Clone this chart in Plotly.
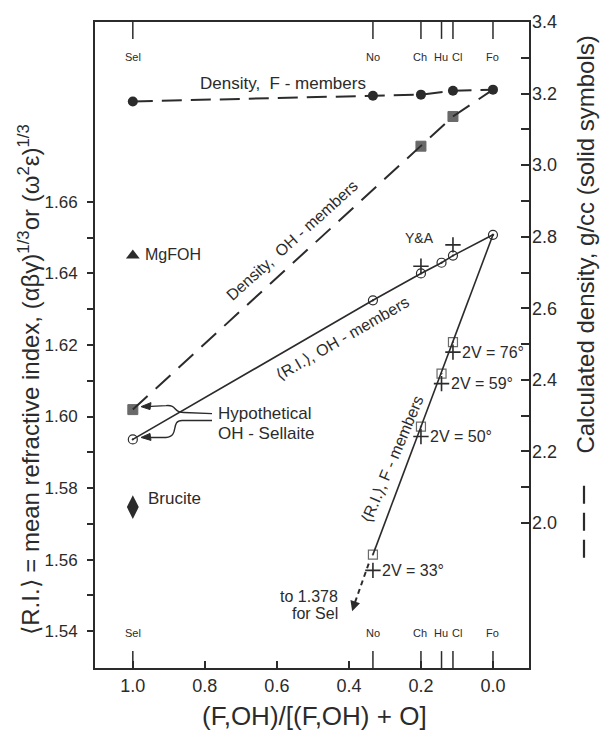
import plotly.graph_objects as go

# ---------------- data ----------------
minerals = ["Sel", "No", "Ch", "Hu", "Cl", "Fo"]
mineral_x = [1.0, 1/3, 0.2, 1/7, 1/9, 0.0]
mineral_label_shift = [0, 0, -1, -1, 4, 0]

dens_F_x = [1.0, 1/3, 0.2, 1/9, 0.0]
dens_F = [3.178, 3.194, 3.197, 3.208, 3.211]

dens_OH_x = [1.0, 0.2, 1/9, 0.0]
dens_OH = [2.317, 3.053, 3.136, 3.211]

ri_OH_x = [1.0, 1/3, 0.2, 1/7, 1/9, 0.0]
ri_OH = [1.5936, 1.6325, 1.640, 1.643, 1.645, 1.6508]

ri_F_x = [1/3, 0.2, 1/7, 1/9, 0.0]
ri_F = [1.5614, 1.5972, 1.612, 1.6208, 1.6508]

meas_F_x = [1/3, 0.2, 1/7, 1/9]
meas_F = [1.557, 1.5944, 1.6092, 1.618]
meas_F_2V = ["2V = 33°", "2V = 50°", "2V = 59°", "2V = 76°"]

ya_x = [0.2, 1/9]
ya_ri = [1.642, 1.648]

mgfoh_x, mgfoh_ri = [1.0], [1.645]
brucite_x, brucite_ri = [1.0], [1.5747]

sel_ext_x = [0.345, 0.384]
sel_ext_ri = [1.5589, 1.5478]
sel_ext_tip = (0.391, 1.5456)

x_tickvals = [1.0, 0.8, 0.6, 0.4, 0.2, 0.0]
x_ticktext = ["1.0", "0.8", "0.6", "0.4", "0.2", "0.0"]
ri_tickvals = [1.54, 1.56, 1.58, 1.60, 1.62, 1.64, 1.66]
ri_ticktext = ["1.54", "1.56", "1.58", "1.60", "1.62", "1.64", "1.66"]
ri_minor_vals = [1.55, 1.57, 1.59, 1.61, 1.63, 1.65]
dens_tickvals = [2.0, 2.2, 2.4, 2.6, 2.8, 3.0, 3.2, 3.4]
dens_ticktext = ["2.0", "2.2", "2.4", "2.6", "2.8", "3.0", "3.2", "3.4"]
dens_minor_vals = [2.1, 2.3, 2.5, 2.7, 2.9, 3.1, 3.3]

# ---------------- layout geometry ----------------
W, H = 600, 734
ML, MR, MT, MB = 95, 71, 18, 66
PW = W - ML - MR
PH = H - MT - MB


def px(xp, yp):
    return (xp - ML) / PW, 1 - (yp - MT) / PH


INK = "#2b2b2b"
FONT = "Liberation Sans, Arial, sans-serif"

fig = go.Figure()

# Density, F-members (right axis)
fig.add_trace(go.Scatter(
    x=dens_F_x, y=dens_F, yaxis="y2", mode="lines+markers",
    line=dict(color=INK, width=2, dash="20px,9px"),
    marker=dict(symbol="circle", size=10, color=INK),
))
# Density, OH-members (right axis)
fig.add_trace(go.Scatter(
    x=dens_OH_x, y=dens_OH, yaxis="y2", mode="lines+markers",
    line=dict(color=INK, width=2, dash="20px,11px"),
    marker=dict(symbol="square", size=[10, 10, 10, 0], color=INK,
                line=dict(width=1, color=INK)),
))
# RI, OH-members
fig.add_trace(go.Scatter(
    x=ri_OH_x, y=ri_OH, mode="lines+markers",
    line=dict(color=INK, width=1.6),
    marker=dict(symbol="circle-open-dot", size=9, color=INK, line=dict(width=1.2, color=INK)),
))
# RI, F-members
fig.add_trace(go.Scatter(
    x=ri_F_x, y=ri_F, mode="lines+markers",
    line=dict(color=INK, width=1.6),
    marker=dict(symbol="square-open-dot", size=[9, 9, 9, 9, 0], color=INK,
                line=dict(width=1.2, color=INK)),
))
# measured F-members (crosses)
fig.add_trace(go.Scatter(
    x=meas_F_x, y=meas_F, mode="markers",
    marker=dict(symbol="cross-thin", size=11, line=dict(width=1.6, color=INK)),
))
# Y&A crosses
fig.add_trace(go.Scatter(
    x=ya_x, y=ya_ri, mode="markers",
    marker=dict(symbol="cross-thin", size=11, line=dict(width=1.6, color=INK)),
))
# MgFOH and brucite
fig.add_trace(go.Scatter(
    x=mgfoh_x, y=mgfoh_ri, mode="markers",
    marker=dict(symbol="triangle-up", size=12, color=INK),
))
fig.add_trace(go.Scatter(
    x=brucite_x, y=brucite_ri, mode="markers",
    marker=dict(symbol="diamond-tall", size=17, color=INK),
))
# extension toward sellaite (off-scale)
fig.add_trace(go.Scatter(
    x=sel_ext_x, y=sel_ext_ri, mode="lines",
    line=dict(color=INK, width=2, dash="5px,4px"),
))

annotations = []
shapes = []

# arrowhead of extension
annotations.append(dict(
    x=sel_ext_tip[0], y=sel_ext_tip[1], xref="x", yref="y",
    ax=sel_ext_x[-1], ay=sel_ext_ri[-1], axref="x", ayref="y",
    text="", showarrow=True, arrowhead=2, arrowsize=1.0, arrowwidth=2, arrowcolor=INK,
))

# mineral ticks top & bottom
for name, xv, sh in zip(minerals, mineral_x, mineral_label_shift):
    shapes.append(dict(type="line", xref="x", yref="paper", x0=xv, x1=xv,
                       y0=1, y1=1 - 17 / PH, line=dict(color=INK, width=1.5)))
    shapes.append(dict(type="line", xref="x", yref="paper", x0=xv, x1=xv,
                       y0=0, y1=17 / PH, line=dict(color=INK, width=1.5)))
    for yy in (45, 641):
        annotations.append(dict(x=xv, y=px(0, yy)[1], xref="x", yref="paper", text=name,
                                showarrow=False, xshift=sh,
                                font=dict(size=11, color=INK, family=FONT)))

# 2V labels
for xv, yv, t in zip(meas_F_x, meas_F, meas_F_2V):
    annotations.append(dict(x=xv, y=yv, xref="x", yref="y", text=t, showarrow=False,
                            xanchor="left", xshift=7, font=dict(size=16, color=INK, family=FONT)))


def label(xp, yp, text, size=16, angle=0, xanchor="center"):
    xx, yy = px(xp, yp)
    annotations.append(dict(x=xx, y=yy, xref="paper", yref="paper", text=text,
                            showarrow=False, textangle=angle, xanchor=xanchor, yanchor="middle",
                            font=dict(size=size, color=INK, family=FONT)))


label(283, 80, "Density,  F - members", 17)
label(292, 238, "Density,  OH - members", 16, -42)
label(342, 336, "⟨R.I.⟩, OH - members", 16, -30)
label(392, 458, "⟨R.I.⟩, F - members", 16, -67)
label(419, 235, "Y&amp;A", 14)
label(143, 252, "MgFOH", 16, xanchor="left")
label(146, 497, "Brucite", 17, xanchor="left")
label(216, 412, "Hypothetical", 17, xanchor="left")
label(216, 432, "OH - Sellaite", 17, xanchor="left")
label(340, 596, "to 1.378", 16, xanchor="right")
label(340, 613, "for Sel", 16, xanchor="right")

# axis titles
label(314, 716, "(F,OH)/[(F,OH) + O]", 26)
label(29, 378, "⟨R.I.⟩ = mean refractive index, (αβγ)<sup>1/3</sup>or (ω<sup>2</sup>ε)<sup>1/3</sup>", 24, -90)
label(586, 242, "Calculated density, g/cc (solid symbols)", 24, -90)
# dashed-line key for the density curves
kx, _ = px(584, 0)
shapes.append(dict(type="line", xref="paper", yref="paper",
                   x0=kx, x1=kx, y0=px(0, 557)[1], y1=px(0, 479)[1],
                   line=dict(color=INK, width=2.2, dash="18px,9px")))

# curved pointer arrows for hypothetical OH-sellaite
def p(xp, yp):
    a, b = px(xp, yp)
    return f"{a:.4f},{b:.4f}"

shapes.append(dict(type="path", xref="paper", yref="paper",
                   path=f"M {p(212,412)} L {p(184,411)} C {p(172,411)} {p(178,403)} {p(166,404)} L {p(146,405)}",
                   line=dict(color=INK, width=1.4)))
shapes.append(dict(type="path", xref="paper", yref="paper",
                   path=f"M {p(212,419)} L {p(182,419)} C {p(170,419)} {p(180,435)} {p(166,436)} L {p(146,436)}",
                   line=dict(color=INK, width=1.4)))
shapes.append(dict(type="path", xref="paper", yref="paper",
                   path=f"M {p(141,405)} L {p(151,401)} L {p(150,408)} Z",
                   fillcolor=INK, line=dict(color=INK, width=1)))
shapes.append(dict(type="path", xref="paper", yref="paper",
                   path=f"M {p(141,436)} L {p(150,432)} L {p(151,439)} Z",
                   fillcolor=INK, line=dict(color=INK, width=1)))

fig.update_layout(
    width=W, height=H,
    margin=dict(l=ML, r=MR, t=MT, b=MB, pad=0),
    paper_bgcolor="white", plot_bgcolor="white",
    showlegend=False,
    font=dict(family=FONT, color=INK),
    xaxis=dict(
        range=[1.105, -0.1], tickvals=x_tickvals, ticktext=x_ticktext,
        ticks="inside", ticklen=7, tickwidth=1.5, tickcolor=INK,
        showline=True, linewidth=2, linecolor=INK, mirror=True,
        showgrid=False, zeroline=False, tickfont=dict(size=18, color=INK),
        ticklabelstandoff=0,
    ),
    yaxis=dict(
        range=[1.5297, 1.7103], tickvals=ri_tickvals, ticktext=ri_ticktext,
        ticks="outside", ticklen=6, tickwidth=1.5, tickcolor=INK,
        minor=dict(tickvals=ri_minor_vals, ticks="outside", ticklen=6, tickwidth=1.5,
                   tickcolor=INK, showgrid=False),
        showline=True, linewidth=2, linecolor=INK, mirror=True,
        showgrid=False, zeroline=False, tickfont=dict(size=17, color=INK),
        ticklabelstandoff=6,
    ),
    yaxis2=dict(
        range=[1.595, 3.4], overlaying="y", side="right",
        tickvals=dens_tickvals, ticktext=dens_ticktext,
        ticks="inside", ticklen=8, tickwidth=1.5, tickcolor=INK,
        minor=dict(tickvals=dens_minor_vals, ticks="inside", ticklen=8, tickwidth=1.5,
                   tickcolor=INK, showgrid=False),
        showline=False, showgrid=False, zeroline=False,
        tickfont=dict(size=18, color=INK), ticklabelstandoff=2,
    ),
    annotations=annotations,
    shapes=shapes,
)

fig.write_html(
    "out.html",
    config={"displayModeBar": False},
    post_script="document.body.style.margin='0px';document.body.style.padding='0px';"
                "document.body.style.overflow='hidden';",
)
